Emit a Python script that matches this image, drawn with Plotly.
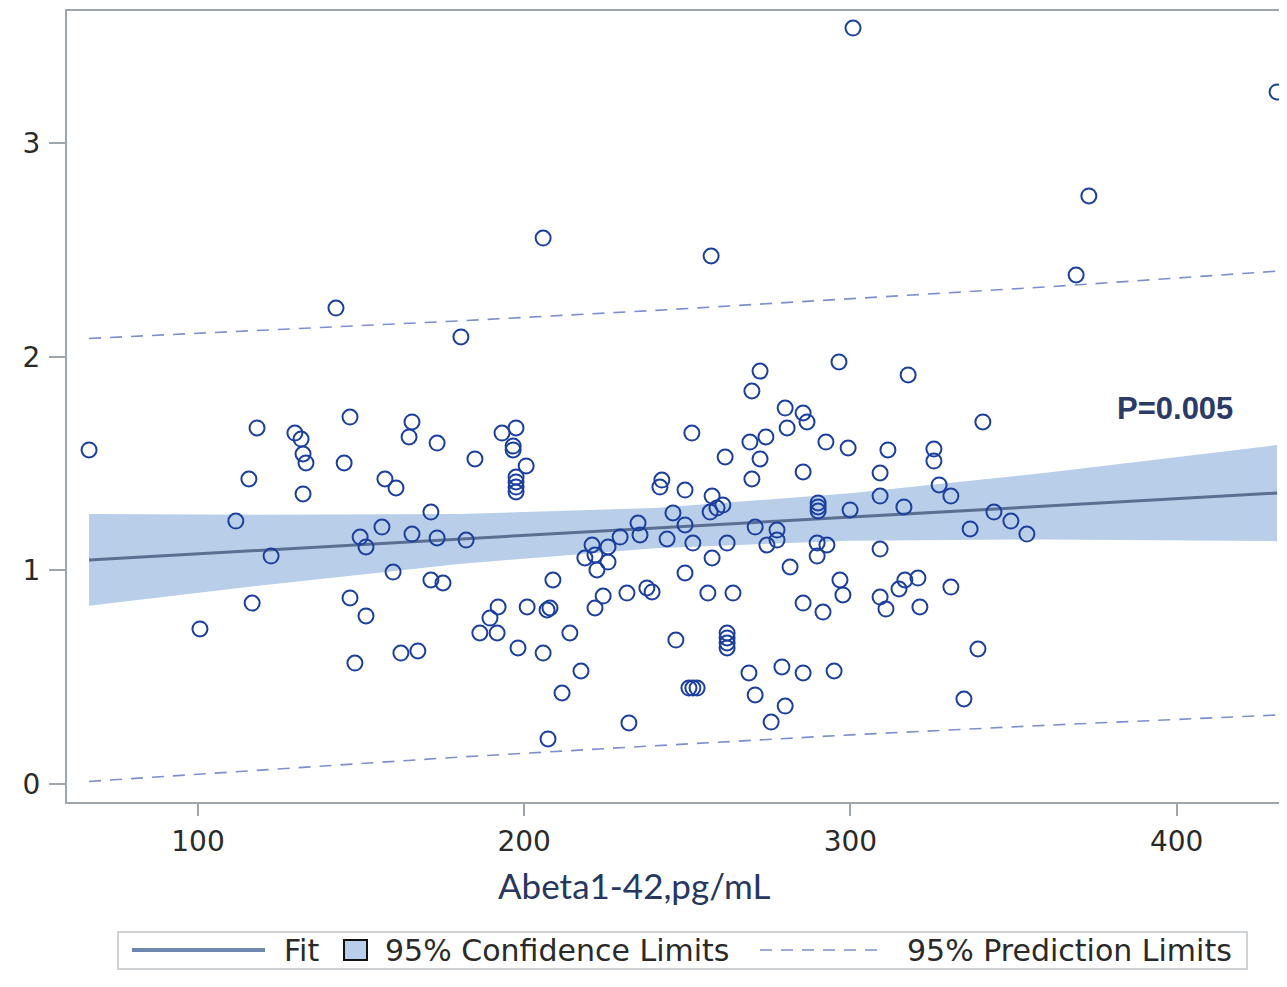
import plotly.graph_objects as go

# ---- data ----
abeta = [66.6,118.1,129.7,131.6,132.2,133.1,146.6,165.6,164.7,173.3,144.8,115.6,132.2,157.3,160.7,111.6,171.4,156.4,165.6,173.3,
         149.7,151.5,122.4,159.8,171.4,175.1,116.6,146.6,151.5,100.6,162.2,167.4,148.1,182.2,142.3,180.6,
         269.8,280.0,285.5,286.7,280.6,251.4,193.2,197.5,269.2,274.1,292.5,196.6,196.6,184.9,261.6,272.3,200.6,285.5,197.5,197.5,
         197.5,197.5,269.8,242.2,241.6,249.3,257.6,257.0,259.1,260.9,290.1,290.1,290.1,245.6,234.9,249.3,270.8,277.5,277.5,274.4,
         235.5,229.4,243.8,251.7,262.2,289.8,292.8,220.8,225.7,218.6,221.7,225.7,222.3,257.6,281.5,289.8,208.8,249.3,237.6,239.2,
         231.5,256.3,264.0,224.2,221.7,192.0,189.5,200.9,207.0,207.9,186.4,191.7,198.1,205.8,214.0,285.5,291.6,246.5,262.2,262.2,
         262.2,262.2,279.0,268.9,285.5,217.4,250.5,251.7,253.0,270.8,211.6,280.0,275.7,232.1,207.3,
         296.5,317.7,340.6,299.3,311.5,325.6,325.6,309.1,327.2,330.8,309.1,299.9,316.4,344.0,349.2,354.1,336.7,309.1,296.8,297.7,
         309.1,310.9,314.9,316.7,320.7,321.3,330.8,339.1,334.8,295.0,
         205.8,257.3,272.3,300.8,430.8,373.1,369.2]
value = [1.564,1.667,1.643,1.615,1.545,1.503,1.718,1.695,1.625,1.596,1.503,1.428,1.358,1.428,1.386,1.231,1.273,1.203,1.170,1.152,
         1.156,1.110,1.067,0.992,0.955,0.941,0.847,0.871,0.787,0.726,0.613,0.623,0.566,1.142,2.228,2.093,
         1.840,1.760,1.737,1.695,1.667,1.643,1.643,1.667,1.601,1.625,1.601,1.582,1.564,1.522,1.531,1.522,1.489,1.461,1.437,1.414,
         1.390,1.367,1.428,1.423,1.390,1.376,1.348,1.273,1.292,1.306,1.316,1.297,1.278,1.269,1.222,1.213,1.203,1.189,1.142,1.119,
         1.166,1.156,1.147,1.128,1.128,1.128,1.119,1.119,1.110,1.058,1.072,1.039,1.002,1.058,1.016,1.067,0.955,0.988,0.918,0.899,
         0.894,0.894,0.894,0.880,0.824,0.829,0.777,0.829,0.815,0.824,0.707,0.707,0.637,0.613,0.707,0.847,0.805,0.674,0.707,0.684,
         0.660,0.637,0.548,0.520,0.520,0.529,0.449,0.449,0.449,0.417,0.426,0.365,0.290,0.286,0.211,
         1.976,1.915,1.695,1.573,1.564,1.568,1.512,1.456,1.400,1.348,1.348,1.283,1.297,1.273,1.231,1.170,1.194,1.100,0.955,0.885,
         0.875,0.819,0.913,0.955,0.964,0.829,0.922,0.632,0.398,0.529,
         2.556,2.472,1.933,3.539,3.240,2.753,2.383]

grid_x  = [66.6, 120, 180, 240, 300, 360, 430.8]
fit_y   = [1.049, 1.095, 1.147, 1.198, 1.250, 1.301, 1.362]
cl_up   = [1.264, 1.260, 1.264, 1.292, 1.361, 1.457, 1.587]
cl_low  = [0.834, 0.931, 1.030, 1.104, 1.139, 1.145, 1.137]
pl_up   = [2.086, 2.123, 2.168, 2.217, 2.271, 2.327, 2.401]
pl_low  = [0.012, 0.067, 0.126, 0.179, 0.230, 0.275, 0.323]

x_ticks = [100, 200, 300, 400]
y_ticks = [0, 1, 2, 3]

# ---- styles ----
OFF = 8                      # page body margin of the html page
W, H = 1287 - OFF, 987 - OFF
L, R, T = 67 - OFF, 0, 11 - OFF
B = H - (802 - OFF)
BAND = "#b9cee8"
FIT = "#5b6f93"
DASH = "#7d8fcf"
MARK = "#1b3f9f"
AXIS = "#9ea6ab"
TXT = "#2a2a2a"

fig = go.Figure()
fig.add_trace(go.Scatter(x=grid_x, y=cl_low, mode="lines", line=dict(width=0, color=BAND),
                         showlegend=False, hoverinfo="skip"))
fig.add_trace(go.Scatter(x=grid_x, y=cl_up, mode="lines", line=dict(width=0, color=BAND),
                         fill="tonexty", fillcolor=BAND, name="95% Confidence Limits", showlegend=False))
fig.add_trace(go.Scatter(x=grid_x, y=fit_y, mode="lines", line=dict(width=3, color=FIT),
                         name="Fit", showlegend=False))
fig.add_trace(go.Scatter(x=grid_x, y=pl_up, mode="lines", line=dict(width=1.6, color=DASH, dash="12px,9px"),
                         name="95% Prediction Limits", showlegend=False))
fig.add_trace(go.Scatter(x=grid_x, y=pl_low, mode="lines", line=dict(width=1.6, color=DASH, dash="12px,9px"),
                         showlegend=False))
fig.add_trace(go.Scatter(x=abeta, y=value, mode="markers",
                         marker=dict(symbol="circle-open", size=15, color=MARK, line=dict(width=2, color=MARK)),
                         showlegend=False))

fig.update_xaxes(range=[59.84, 433.84], tickvals=x_ticks, showgrid=False, zeroline=False,
                 showline=True, linecolor=AXIS, linewidth=2, mirror=True,
                 ticks="outside", ticklen=12, tickwidth=2, tickcolor=AXIS, ticklabelstandoff=1,
                 tickfont=dict(family="DejaVu Sans", size=28, color=TXT))
fig.update_yaxes(range=[-0.0843, 3.619], tickvals=y_ticks, showgrid=False, zeroline=False,
                 showline=True, linecolor=AXIS, linewidth=2, mirror=False,
                 ticks="outside", ticklen=16, tickwidth=2, tickcolor=AXIS, ticklabelstandoff=3,
                 tickfont=dict(family="DejaVu Sans", size=28, color=TXT))

# page-pixel -> paper helpers for layout decorations (legend, title)
PW, PH = W - L - R, H - T - B
def px(xp):
    return (xp - OFF - L) / PW
def py(yp):
    return (H - B - (yp - OFF)) / PH

shapes = []
annotations = []
# P-value annotation
annotations.append(dict(x=399.5, y=1.758, xref="x", yref="y", text="<b>P=0.005</b>", showarrow=False,
                        font=dict(family="Liberation Sans", size=31, color="#2b3a67")))
# x axis title
annotations.append(dict(x=px(634), y=py(885), xref="paper", yref="paper", text="Abeta1-42,pg/mL",
                        showarrow=False, xanchor="center", yanchor="middle",
                        font=dict(family="Lato", size=35, color="#27375f")))
# legend box
shapes.append(dict(type="rect", xref="paper", yref="paper", x0=px(118), x1=px(1247), y0=py(969), y1=py(932),
                   line=dict(color="#cfd2d4", width=2), fillcolor="white"))
shapes.append(dict(type="line", xref="paper", yref="paper", x0=px(132), x1=px(265), y0=py(950), y1=py(950),
                   line=dict(color="#6f86b0", width=4)))
shapes.append(dict(type="rect", xref="paper", yref="paper", x0=px(344), x1=px(367), y0=py(960), y1=py(940),
                   line=dict(color="#111111", width=2), fillcolor=BAND))
shapes.append(dict(type="line", xref="paper", yref="paper", x0=px(760), x1=px(882), y0=py(950), y1=py(950),
                   line=dict(color=DASH, width=1.6, dash="12px,9px")))
for xl, txt in [(282, "Fit"), (383, "95% Confidence Limits"), (905, "95% Prediction Limits")]:
    annotations.append(dict(x=px(xl), y=py(950), xref="paper", yref="paper", text=txt, showarrow=False,
                            xanchor="left", yanchor="middle",
                            font=dict(family="DejaVu Sans", size=30, color=TXT)))

fig.update_layout(width=W, height=H, margin=dict(l=L, r=R, t=T, b=B, autoexpand=False),
                  paper_bgcolor="white", plot_bgcolor="white", showlegend=False,
                  shapes=shapes, annotations=annotations)

fig.write_html("out.html")
